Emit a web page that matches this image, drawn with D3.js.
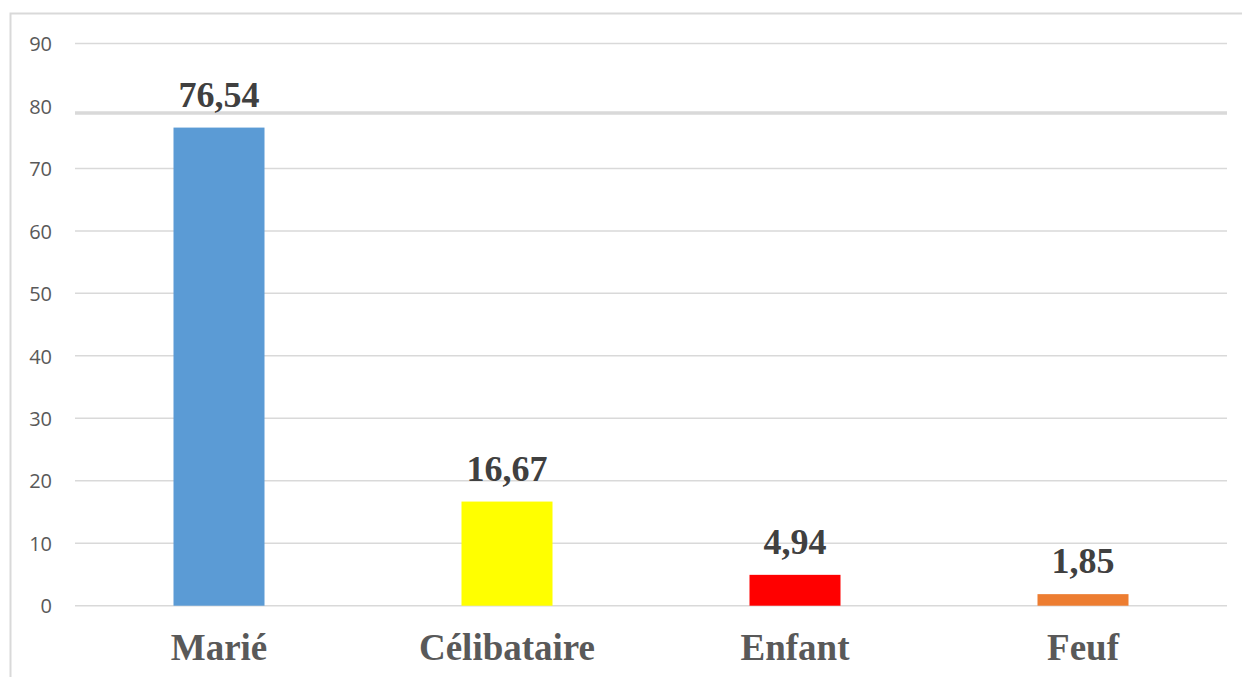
<!DOCTYPE html>
<html>
<head>
<meta charset="utf-8">
<script src="https://cdn.jsdelivr.net/npm/d3@7"></script>
<style>
  html, body { margin: 0; padding: 0; background: #fff; }
  svg { display: block; }
</style>
</head>
<body>
<svg id="chart" width="1242" height="677"></svg>
<script>
// Répartition selon la situation familiale (%)
const categories = ["Marié", "Célibataire", "Enfant", "Feuf"];
const values = [76.54, 16.67, 4.94, 1.85];
const labels = ["76,54", "16,67", "4,94", "1,85"];
const colors = ["#5b9bd5", "#ffff00", "#ff0000", "#ed7d31"];
const yTicks = [0, 10, 20, 30, 40, 50, 60, 70, 80, 90];

const svg = d3.select("#chart");
const margin = { left: 75, right: 15, top: 43.5, bottom: 71.3 };
const W = 1242, H = 677;

// Outer chart frame
svg.append("rect")
  .attr("x", 10.5).attr("y", 13.5)
  .attr("width", W + 20).attr("height", H + 20)
  .attr("fill", "none").attr("stroke", "#d9d9d9").attr("stroke-width", 2);

const x = d3.scaleBand()
  .domain(categories)
  .range([margin.left, W - margin.right])
  .paddingInner(0.684)
  .paddingOuter(0.342);

const y = d3.scaleLinear()
  .domain([0, 90])
  .range([H - margin.bottom, margin.top]);

// Horizontal gridlines
svg.append("g")
  .selectAll("line")
  .data(yTicks)
  .join("line")
  .attr("x1", margin.left).attr("x2", W - margin.right)
  .attr("y1", d => d === 80 ? y(d) + 7 : y(d))
  .attr("y2", d => d === 80 ? y(d) + 7 : y(d))
  .attr("stroke", "#d9d9d9")
  .attr("stroke-width", d => d === 80 ? 3.5 : 1.5);

// Y axis labels
const yAxis = d3.axisLeft(y).tickValues(yTicks).tickSize(0).tickPadding(0);
const gy = svg.append("g").attr("transform", "translate(52,0)").call(yAxis);
gy.select(".domain").remove();
gy.selectAll("text")
  .attr("font-family", "'Open Sans', sans-serif")
  .attr("font-size", 20)
  .attr("fill", "#595959")
  .attr("dy", "0.36em");

// Bars
svg.append("g")
  .selectAll("rect")
  .data(categories)
  .join("rect")
  .attr("x", d => x(d))
  .attr("width", x.bandwidth())
  .attr("y", (d, i) => y(values[i]))
  .attr("height", (d, i) => y(0) - y(values[i]))
  .attr("fill", (d, i) => colors[i]);

// Value labels
svg.append("g")
  .selectAll("text")
  .data(categories)
  .join("text")
  .attr("x", d => x(d) + x.bandwidth() / 2)
  .attr("y", (d, i) => y(values[i]) - 21)
  .attr("text-anchor", "middle")
  .attr("font-family", "'Liberation Serif', 'Times New Roman', serif")
  .attr("font-weight", "bold")
  .attr("font-size", 36)
  .attr("fill", "#404040")
  .text((d, i) => labels[i]);

// Category axis
const xAxis = d3.axisBottom(x).tickSize(0).tickPadding(0);
const gx = svg.append("g").attr("transform", `translate(0,${y(0)})`).call(xAxis);
gx.select(".domain").remove();
gx.selectAll("text")
  .attr("font-family", "'Liberation Serif', 'Times New Roman', serif")
  .attr("font-weight", "bold")
  .attr("font-size", 37)
  .attr("fill", "#595959")
  .attr("dy", 0)
  .attr("y", 54);
</script>
</body>
</html>
